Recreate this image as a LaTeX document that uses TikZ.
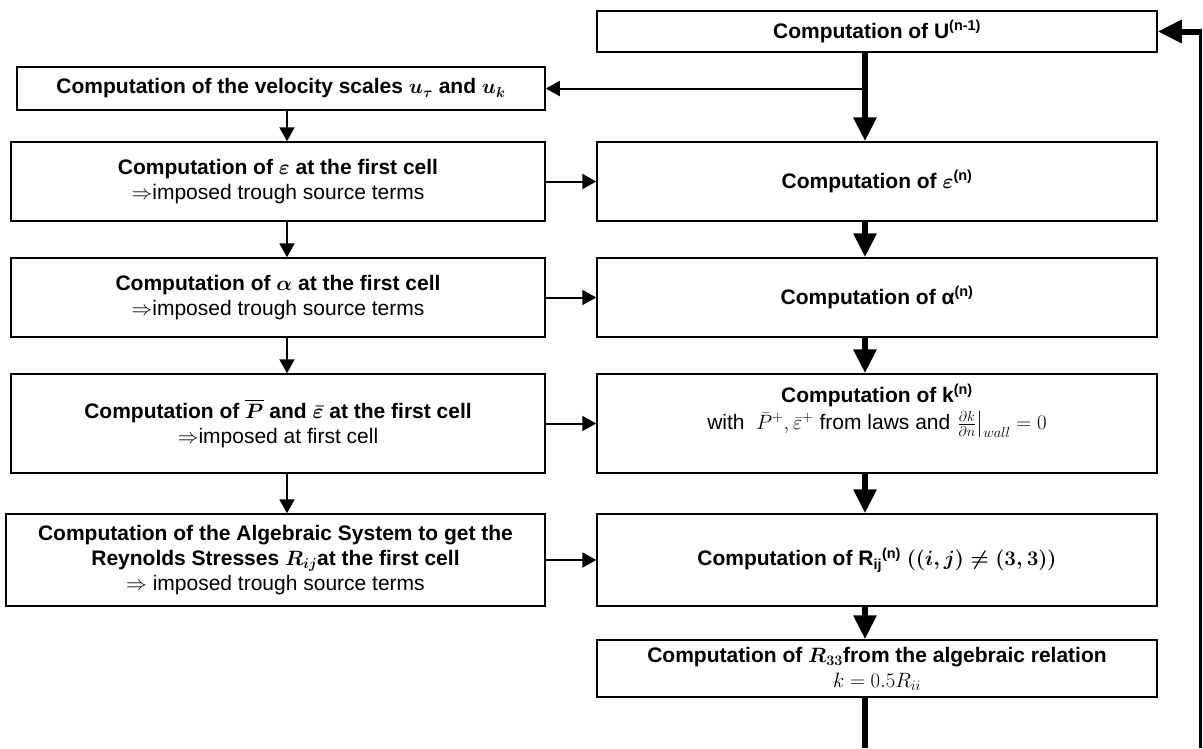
\documentclass[tikz,border=0pt]{standalone}
\usepackage{amsmath,amssymb}
\usepackage{bm}
\usepackage{fontspec}
\setmainfont{Liberation Sans}
\DeclareMathSizes{21}{20.74}{14.4}{10}
\usetikzlibrary{arrows.meta}
\begin{document}
\begin{tikzpicture}[x=1pt,y=-1pt,
  box/.style={draw,line width=1.5pt,inner sep=0pt,align=center,font=\fontsize{21}{25}\selectfont},
  thinarrow/.style={line width=2pt,-{Triangle[length=14pt,width=15pt]}},
  thickarrow/.style={line width=6pt,-{Triangle[length=24pt,width=22pt]}},
  thickline/.style={line width=6pt}
]
\useasboundingbox (0,0) rectangle (1203,748);
% right column
\node[box,minimum width=560pt,minimum height=41pt] (U) at (877,31.5) {\textbf{Computation of U\textsuperscript{(n-1)}}};
\node[box,minimum width=560pt,minimum height=79pt] (epsn) at (877,181.5) {\textbf{Computation of {\boldmath$\varepsilon$}\textsuperscript{(n)}}};
\node[box,minimum width=560pt,minimum height=79pt] (alphan) at (877,297.5) {\textbf{Computation of α\textsuperscript{(n)}}};
\node[box,minimum width=560pt,minimum height=99pt] (kn) at (877,423.5) {\textbf{Computation of k\textsuperscript{(n)}}\\[2pt]
  with \ $\bar{P}^{+},\bar{\varepsilon}^{+}$ from laws and $\left.\frac{\partial k}{\partial n}\right|_{wall}=0$\\[8pt]};
\node[box,minimum width=560pt,minimum height=92pt] (rij) at (877,560) {\textbf{Computation of R\textsubscript{ij}\textsuperscript{(n)} {\boldmath$((i,j)\neq(3,3))$}}};
\node[box,minimum width=560pt,minimum height=57pt] (r33) at (877,668.5) {\textbf{Computation of {\boldmath$R_{33}$}from the algebraic relation}\\ $k=0.5R_{ii}$};
% left column
\node[box,minimum width=528pt,minimum height=43pt] (vel) at (281,88.5) {\textbf{Computation of the velocity scales {\boldmath$u_{\tau}$} and {\boldmath$u_{k}$}}};
\node[box,minimum width=534pt,minimum height=79pt] (eps) at (278,181.5) {\textbf{Computation of {\boldmath$\varepsilon$} at the first cell}\\ $\Rightarrow$imposed trough source terms};
\node[box,minimum width=534pt,minimum height=79pt] (alpha) at (278,297.5) {\textbf{Computation of {\boldmath$\alpha$} at the first cell}\\ $\Rightarrow$imposed trough source terms};
\node[box,minimum width=534pt,minimum height=99pt] (pbar) at (278,423.5) {\textbf{Computation of {\boldmath$\overline{P}$} and {\boldmath$\bar{\varepsilon}$} at the first cell}\\ $\Rightarrow$imposed at first cell};
\node[box,minimum width=539pt,minimum height=92pt] (alg) at (275.5,560) {\textbf{Computation of the Algebraic System to get the}\\ \textbf{Reynolds Stresses {\boldmath$R_{ij}$}at the first cell}\\ $\Rightarrow$ imposed trough source terms};
% helper coordinates
\coordinate (tx) at (865,0);
\coordinate (lx) at (287,0);
\coordinate (bot) at (865,748);
\coordinate (fbbot) at (1200,748);
\coordinate (fbtop) at (1200,31.5);
% thick right-column arrows
\draw[thickarrow] (U.south -| tx) -- (epsn.north -| tx);
\draw[thickarrow] (epsn.south -| tx) -- (alphan.north -| tx);
\draw[thickarrow] (alphan.south -| tx) -- (kn.north -| tx);
\draw[thickarrow] (kn.south -| tx) -- (rij.north -| tx);
\draw[thickarrow] (rij.south -| tx) -- (r33.north -| tx);
\draw[thickline] (r33.south -| tx) -- (bot);
% feedback
\draw[line width=3pt] (fbbot) -- ([yshift=-1.5pt]fbtop);
\draw[thickarrow] ([xshift=1.5pt]fbtop) -- (U.east);
% velocity branch
\draw[thinarrow] (vel.east -| tx) -- (vel.east);
% left column arrows
\draw[thinarrow] (vel.south -| lx) -- (eps.north -| lx);
\draw[thinarrow] (eps.south -| lx) -- (alpha.north -| lx);
\draw[thinarrow] (alpha.south -| lx) -- (pbar.north -| lx);
\draw[thinarrow] (pbar.south -| lx) -- (alg.north -| lx);
% horizontal arrows
\draw[thinarrow] (eps.east) -- (epsn.west);
\draw[thinarrow] (alpha.east) -- (alphan.west);
\draw[thinarrow] (pbar.east) -- (kn.west);
\draw[thinarrow] (alg.east) -- (rij.west);
\end{tikzpicture}
\end{document}
